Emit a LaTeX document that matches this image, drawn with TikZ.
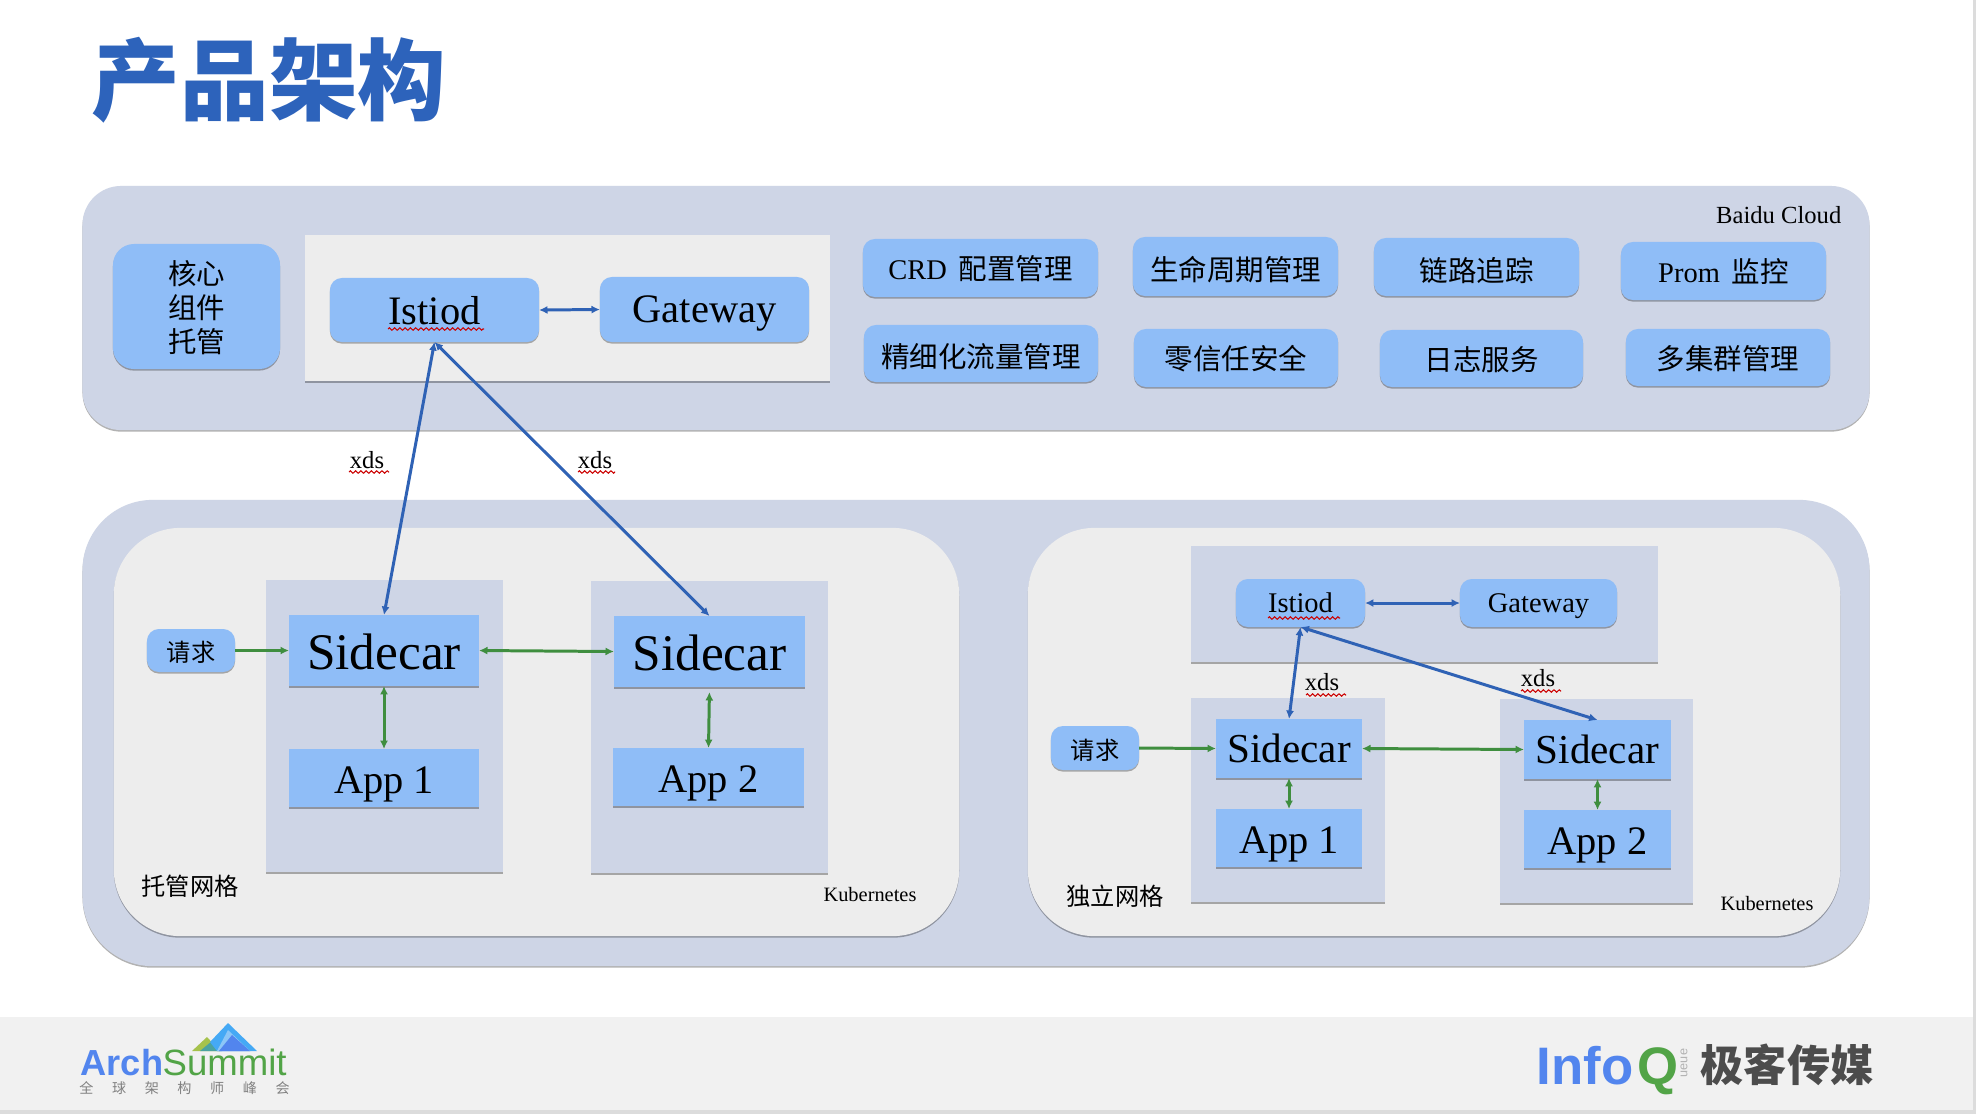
\documentclass[tikz,border=0pt]{standalone}
\usepackage{fontspec}
\setmainfont{Liberation Serif}
\newfontfamily\cjk{Noto Sans CJK SC}
\newfontfamily\logofont{Liberation Sans}
\usetikzlibrary{arrows.meta,shadows,decorations.pathmorphing}

\definecolor{panelColor}{HTML}{CED5E6}
\definecolor{boxColor}{HTML}{8FBDF7}
\definecolor{paleColor}{HTML}{EDEDED}
\definecolor{footColor}{HTML}{F1F1F1}
\definecolor{titleColor}{HTML}{2D63BB}
\definecolor{lineBlue}{HTML}{2F62B5}
\definecolor{lineGreen}{HTML}{3F8E3F}
\definecolor{edgeColor}{HTML}{DCDCDC}
\definecolor{logoBlue}{HTML}{5285EE}
\definecolor{logoGreen}{HTML}{52A447}
\definecolor{peakOlive}{HTML}{A6C24C}
\definecolor{peakTeal}{HTML}{4BA3A0}
\definecolor{peakSky}{HTML}{45A9F5}
\definecolor{peakPale}{HTML}{8CC6F7}

\tikzset{
    softShadow/.style={drop shadow={shadow xshift=0pt,shadow yshift=-0.45pt,fill=black,opacity=0.3}},
    plate/.style={rectangle,inner sep=0pt,outer sep=0pt,softShadow},
    roundPlate/.style={plate,rounded corners=#1},
    blueBox/.style={plate,fill=boxColor},
    blueRound/.style={roundPlate=#1,fill=boxColor},
    blueRound/.default=3.4pt,
    panelBox/.style={plate,fill=panelColor},
    paleBox/.style={plate,fill=paleColor},
    cjkLabel/.style={font=\fontsize{8.1}{9.7}\selectfont,text height=8pt,text depth=0pt},
    mixedLabel/.style={font=\fontsize{8.1}{9.7}\selectfont,text height=6.6pt,text depth=0pt},
    stackLabel/.style={font=\cjk\fontsize{8.1}{9.7}\selectfont,align=center,text depth=-0.4pt},
    requestLabel/.style={font=\cjk\fontsize{6.9}{8}\selectfont,text height=6.3pt,text depth=0pt},
    smallCjk/.style={font=\cjk\fontsize{6.9}{8}\selectfont,inner sep=0pt},
    smallLabel/.style={font=\fontsize{7}{8}\selectfont,inner sep=0pt},
    kubeLabel/.style={font=\fontsize{5.8}{7}\selectfont,inner sep=0pt},
    bigLabel/.style={font=\fontsize{14.6}{16}\selectfont,text height=10.6pt,text depth=0pt},
    midLabel/.style={font=\fontsize{11.5}{13}\selectfont,text depth=0pt},
    appLabel/.style={font=\fontsize{11.5}{13}\selectfont,text height=8.8pt,text depth=0pt},
    sideLabel/.style={font=\fontsize{11.7}{13}\selectfont},
    tinyLabel/.style={font=\fontsize{8.1}{10}\selectfont,text depth=0pt},
    blueLink/.style={lineBlue,line width=0.85pt,{Latex[length=2.4pt,width=2.3pt]}-{Latex[length=2.4pt,width=2.3pt]}},
    greenLink/.style={lineGreen,line width=0.85pt,{Latex[length=2.4pt,width=2.3pt]}-{Latex[length=2.4pt,width=2.3pt]}},
    greenFlow/.style={lineGreen,line width=0.85pt,-{Latex[length=2.4pt,width=2.3pt]}},
    spellMark/.style={red!80!black,line width=0.3pt,decorate,decoration={zigzag,amplitude=0.35pt,segment length=1.5pt}}
}

\begin{document}
\begin{tikzpicture}[x=0.01cm,y=-0.01cm]

    % Page and footer band.
    \useasboundingbox(0,0)rectangle(1976,1114);
    \fill[white](0,0)rectangle(1976,1114);
    \fill[edgeColor](1973,0)rectangle(1976,1114);
    \fill[edgeColor](0,1110)rectangle(1976,1114);
    \fill[footColor](0,1017)rectangle(1973,1110);

    % Title.
    \node[inner sep=0pt,text=titleColor,font=\cjk\bfseries\fontsize{25.2}{27}\selectfont](titleText)at(269,80){产品架构};

    % -----------
    % Top panel.
    % -----------
    \node[panelBox,rounded corners=11pt,minimum width=17.86cm,minimum height=2.44cm](cloudPanel)at(976,308){};
    \node[smallLabel,anchor=east](cloudLabel)at(1842,215){Baidu Cloud};

    \node[blueRound=6pt,stackLabel,minimum width=1.67cm,minimum height=1.25cm](coreBox)at(196.5,306.5){核心\\组件\\托管};

    \node[paleBox,minimum width=5.25cm,minimum height=1.46cm](controlHosted)at(567.5,308){};
    \node[blueRound,midLabel,minimum width=2.09cm,minimum height=0.64cm](istiodHosted)at(434.5,310){Istiod};
    \node[blueRound,midLabel,minimum width=2.09cm,minimum height=0.65cm](gatewayHosted)at(704.5,309.5){Gateway};
    \draw[blueLink](istiodHosted.east)--(gatewayHosted.west);

    % Feature boxes.
    \node[blueRound,mixedLabel,minimum width=2.35cm,minimum height=0.58cm](featCrd)at(980.5,268){CRD\, {\cjk 配置管理}};
    \node[blueRound,cjkLabel,minimum width=2.05cm,minimum height=0.59cm](featLife)at(1235.5,266.5){\cjk 生命周期管理};
    \node[blueRound,cjkLabel,minimum width=2.05cm,minimum height=0.58cm](featTrace)at(1476.5,267){\cjk 链路追踪};
    \node[blueRound,mixedLabel,minimum width=2.05cm,minimum height=0.58cm](featProm)at(1723.5,271){Prom\, {\cjk 监控}};
    \node[blueRound,cjkLabel,minimum width=2.34cm,minimum height=0.57cm](featFlow)at(981,353.5){\cjk 精细化流量管理};
    \node[blueRound,mixedLabel,minimum width=2.04cm,minimum height=0.58cm,font=\cjk\fontsize{8.1}{9.7}\selectfont](featSafe)at(1236,358){零信任安全};
    \node[blueRound,mixedLabel,minimum width=2.03cm,minimum height=0.57cm,font=\cjk\fontsize{8.1}{9.7}\selectfont](featLog)at(1481.5,358.5){日志服务};
    \node[blueRound,mixedLabel,minimum width=2.04cm,minimum height=0.57cm,font=\cjk\fontsize{8.1}{9.7}\selectfont](featMulti)at(1728,357.5){多集群管理};

    % --------------
    % Bottom panel.
    % --------------
    \node[panelBox,rounded corners=20pt,minimum width=17.86cm,minimum height=4.66cm](meshPanel)at(976,733){};
    \node[paleBox,rounded corners=19pt,minimum width=8.45cm,minimum height=4.08cm](hostedArea)at(536.5,732){};
    \node[paleBox,rounded corners=19pt,minimum width=8.12cm,minimum height=4.08cm](aloneArea)at(1434,732){};

    % Hosted mesh.
    \node[panelBox,minimum width=2.37cm,minimum height=2.92cm](podHostedOne)at(384.5,726){};
    \node[panelBox,minimum width=2.37cm,minimum height=2.92cm](podHostedTwo)at(709.5,727){};
    \node[blueBox,bigLabel,minimum width=1.9cm,minimum height=0.71cm](sidecarHostedOne)at(384,650.5){Sidecar};
    \node[blueBox,bigLabel,minimum width=1.91cm,minimum height=0.71cm](sidecarHostedTwo)at(709.5,651.5){Sidecar};
    \node[blueBox,appLabel,minimum width=1.9cm,minimum height=0.58cm](appHostedOne)at(384,778){App 1};
    \node[blueBox,appLabel,minimum width=1.91cm,minimum height=0.58cm](appHostedTwo)at(708.5,777){App 2};
    \node[blueRound,requestLabel,minimum width=0.88cm,minimum height=0.43cm](requestHosted)at(191,650.5){请求};
    \node[smallCjk](hostedLabel)at(190,886){托管网格};
    \node[kubeLabel](kubeHosted)at(870,894){Kubernetes};

    \draw[greenFlow](requestHosted.east)--(sidecarHostedOne.west);
    \draw[greenLink](sidecarHostedOne.east)--(sidecarHostedTwo.west);
    \draw[greenLink](sidecarHostedOne.south)--(appHostedOne.north);
    \draw[greenLink,shorten <=0.05cm](sidecarHostedTwo.south)--(appHostedTwo.north);

    % Standalone mesh.
    \node[panelBox,minimum width=4.67cm,minimum height=1.16cm](controlAlone)at(1424.5,604){};
    \node[blueRound,tinyLabel,minimum width=1.29cm,minimum height=0.48cm](istiodAlone)at(1300.5,603){Istiod};
    \node[blueRound,tinyLabel,minimum width=1.57cm,minimum height=0.48cm](gatewayAlone)at(1538.5,603){Gateway};
    \node[panelBox,minimum width=1.94cm,minimum height=2.04cm](podAloneOne)at(1288,800){};
    \node[panelBox,minimum width=1.93cm,minimum height=2.04cm](podAloneTwo)at(1596.5,801){};
    \node[blueBox,sideLabel,minimum width=1.46cm,minimum height=0.59cm](sidecarAloneOne)at(1289,748.5){Sidecar};
    \node[blueBox,sideLabel,minimum width=1.47cm,minimum height=0.59cm](sidecarAloneTwo)at(1597.5,749.5){Sidecar};
    \node[blueBox,appLabel,minimum width=1.46cm,minimum height=0.58cm](appAloneOne)at(1289,838){App 1};
    \node[blueBox,appLabel,minimum width=1.47cm,minimum height=0.58cm](appAloneTwo)at(1597.5,839){App 2};
    \node[blueRound,requestLabel,minimum width=0.88cm,minimum height=0.44cm](requestAlone)at(1095,748){请求};
    \node[smallCjk](aloneLabel)at(1115,896){独立网格};
    \node[kubeLabel](kubeAlone)at(1767,903){Kubernetes};

    \draw[blueLink](istiodAlone.east)--(gatewayAlone.west);
    \draw[greenFlow](requestAlone.east)--(sidecarAloneOne.west);
    \draw[greenLink](sidecarAloneOne.east)--(sidecarAloneTwo.west);
    \draw[greenLink](sidecarAloneOne.south)--(appAloneOne.north);
    \draw[greenLink](sidecarAloneTwo.south)--(appAloneTwo.north);

    % Control plane links.
    \draw[blueLink](istiodHosted.south)--(sidecarHostedOne.north);
    \draw[blueLink](istiodHosted.south)--(sidecarHostedTwo.north);
    \draw[blueLink](istiodAlone.south)--(sidecarAloneOne.north);
    \draw[blueLink](istiodAlone.south)--(sidecarAloneTwo.north);

    % xds labels.
    \node[smallLabel](xdsHostedOne)at(367,460){xds};
    \node[smallLabel](xdsHostedTwo)at(595,460){xds};
    \node[smallLabel](xdsAloneOne)at(1322,682){xds};
    \node[smallLabel](xdsAloneTwo)at(1538,678){xds};

    % Spelling marks.
    \draw[spellMark](388,329)--(484,329);
    \draw[spellMark](349,472)--(389,472);
    \draw[spellMark](578,472)--(615,472);
    \draw[spellMark](1268,618)--(1340,618);
    \draw[spellMark](1306,695)--(1346,695);
    \draw[spellMark](1521,691)--(1561,691);

    % ---------
    % Footer.
    % ---------

    % Mountain mark.
    \fill[peakOlive](192,1051)--(207,1037)--(220,1051)--cycle;
    \fill[peakTeal](200,1051)--(212,1041)--(222,1051)--cycle;
    \fill[peakSky](210,1042)--(228,1023)--(257,1051)--(217,1051)--cycle;
    \fill[peakPale](217,1051)--(228,1030)--(250,1051)--cycle;
    \fill[logoBlue](219,1051)--(232,1035)--(250,1051)--cycle;

    \node[anchor=base west,inner sep=0pt,text=logoBlue,font=\logofont\bfseries\fontsize{10.3}{12}\selectfont](logoArch)at(80,1075){Arch};
    \node[anchor=base west,inner sep=0pt,text=logoGreen,font=\logofont\fontsize{10.4}{12}\selectfont](logoSummit)at(162,1075){Summit};
    \node[inner sep=0pt,text=black!50,font=\cjk\fontsize{4}{5}\selectfont](logoSub)at(184.5,1088){\spaceskip=5.3pt\relax 全 球 架 构 师 峰 会};

    \node[anchor=base west,inner sep=0pt,text=logoBlue,font=\logofont\bfseries\fontsize{15}{17}\selectfont](logoInfo)at(1536,1084){Info};
    \node[anchor=base west,inner sep=0pt,text=logoGreen,font=\logofont\bfseries\fontsize{15}{17}\selectfont](logoQ)at(1637,1084){Q};
    \node[inner sep=0pt,rotate=90,text=black!30,font=\logofont\fontsize{3.6}{4}\selectfont](logoQueue)at(1684,1063){ueue};
    \node[inner sep=0pt,text=black!70,font=\cjk\bfseries\fontsize{12.3}{14}\selectfont](logoGeek)at(1787,1065){极客传媒};

\end{tikzpicture}
\end{document}
